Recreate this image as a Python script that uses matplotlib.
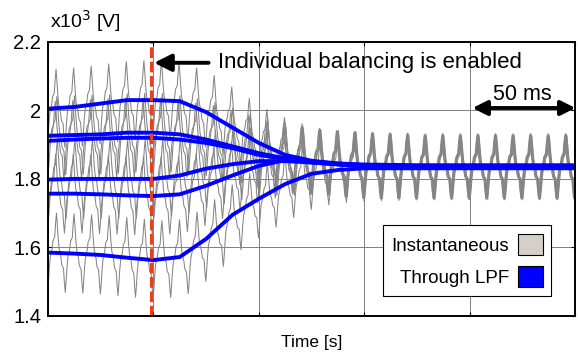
import numpy as np
import matplotlib.pyplot as plt
from matplotlib.patches import Patch

plt.rcParams['font.family'] = ['Liberation Sans', 'DejaVu Sans']

# time axis in units of 50 ms
t_pts = [0, 0.25, 0.5, 0.75, 1.0, 1.25, 1.5, 1.75, 2.0, 2.25, 2.5, 2.75, 3.0, 3.5, 4.0, 4.5, 5.0]

# capacitor voltages after the low-pass filter (x10^3 V)
lpf_a = [2.005, 2.01, 2.02, 2.03, 2.03, 2.027, 1.995, 1.95, 1.905, 1.87, 1.853, 1.845, 1.842, 1.840, 1.840, 1.840, 1.840]
lpf_b = [1.926, 1.928, 1.930, 1.935, 1.935, 1.930, 1.915, 1.895, 1.875, 1.860, 1.850, 1.845, 1.840, 1.838, 1.838, 1.838, 1.838]
lpf_c = [1.911, 1.915, 1.918, 1.920, 1.920, 1.915, 1.905, 1.890, 1.870, 1.858, 1.848, 1.842, 1.838, 1.836, 1.836, 1.836, 1.836]
lpf_d = [1.798, 1.800, 1.800, 1.800, 1.800, 1.810, 1.830, 1.843, 1.852, 1.852, 1.848, 1.843, 1.838, 1.834, 1.834, 1.834, 1.834]
lpf_e = [1.757, 1.757, 1.755, 1.752, 1.750, 1.755, 1.780, 1.810, 1.838, 1.855, 1.850, 1.843, 1.837, 1.833, 1.833, 1.833, 1.833]
lpf_f = [1.585, 1.582, 1.578, 1.570, 1.563, 1.572, 1.625, 1.695, 1.742, 1.785, 1.815, 1.826, 1.831, 1.831, 1.831, 1.831, 1.831]
lpf_all = [lpf_a, lpf_b, lpf_c, lpf_d, lpf_e, lpf_f]

# ripple: one period sampled, normalised, and peak amplitude over time
ripple_shape = [0.0, 0.1, 0.3, 0.35, 0.4, 0.75, 1.0, 0.7, 0.35, 0.1,
                0.0, -0.1, -0.3, -0.35, -0.4, -0.75, -1.0, -0.7, -0.35, -0.1]
ripple_amp = [0.115, 0.115, 0.115, 0.115, 0.115, 0.11, 0.11, 0.105, 0.10, 0.10, 0.095, 0.095, 0.095, 0.092, 0.092, 0.092, 0.092]
ripple_period = 1 / 6
phase_shift = [0.0, 0.008, -0.008, 0.012, -0.004, 0.004]

t_balance = 0.98

fig = plt.figure(figsize=(5.78, 3.55), dpi=100)
ax = fig.add_axes([0.083, 0.110, 0.912, 0.772])

n = len(ripple_shape)
for lpf, dt in zip(lpf_all, phase_shift):
    t = np.arange(-0.2, 5.2, ripple_period / n)
    shape = np.array(ripple_shape * (len(t) // n + 1))[:len(t)]
    v = np.interp(t, t_pts, lpf) + np.interp(t, t_pts, ripple_amp) * shape
    ax.plot(t + 0.06 + dt, v, color='#858585', lw=0.75)

for lpf in lpf_all:
    ax.plot(t_pts, lpf, color='#0000ff', lw=2.8, solid_capstyle='round')

ax.axvline(t_balance, color='#e8401c', lw=2.2, ls=(0, (3.5, 1.2)))

ax.set_xlim(0, 5)
ax.set_ylim(1.4, 2.2)
ax.set_xticks(range(6))
ax.set_xticklabels([])
ax.set_yticks([1.4, 1.6, 1.8, 2.0, 2.2])
ax.set_yticklabels(['1.4', '1.6', '1.8', '2', '2.2'], fontsize=14.5)
ax.tick_params(direction='in', length=3, top=True, right=True, width=0.8, pad=5)
ax.grid(True, color='#808080', lw=0.7)
for s in ax.spines.values():
    s.set_linewidth(1.4)

ax.text(0.02, 2.222, r'x10$^3$ [V]', fontsize=14, va='bottom', ha='left')
ax.set_xlabel('Time [s]', fontsize=12.5, labelpad=9)

ax.annotate('', xy=(t_balance, 2.139), xytext=(1.55, 2.139),
            arrowprops=dict(arrowstyle='-|>', lw=2.8, color='black', mutation_scale=26))
ax.text(1.61, 2.139, 'Individual balancing is enabled', fontsize=16, va='center', ha='left')

ax.annotate('', xy=(4.0, 2.007), xytext=(5.03, 2.007), annotation_clip=False,
            arrowprops=dict(arrowstyle='<|-|>', lw=2.8, color='black', mutation_scale=22))
ax.text(4.5, 2.015, '50 ms', fontsize=15.5, va='bottom', ha='center')

handles = [Patch(facecolor='#d4d0c8', edgecolor='black', lw=0.8),
           Patch(facecolor='#0000ff', edgecolor='black', lw=0.8)]
leg = ax.legend(handles, ['Instantaneous', 'Through LPF'], loc='lower right',
                bbox_to_anchor=(0.972, 0.04), markerfirst=False, fancybox=False,
                framealpha=1, edgecolor='black', fontsize=13.5, handlelength=1.3,
                handleheight=1.4, borderpad=0.45, labelspacing=0.55, handletextpad=0.5)
leg.get_frame().set_linewidth(0.8)

fig.savefig('out.png', dpi=100)
